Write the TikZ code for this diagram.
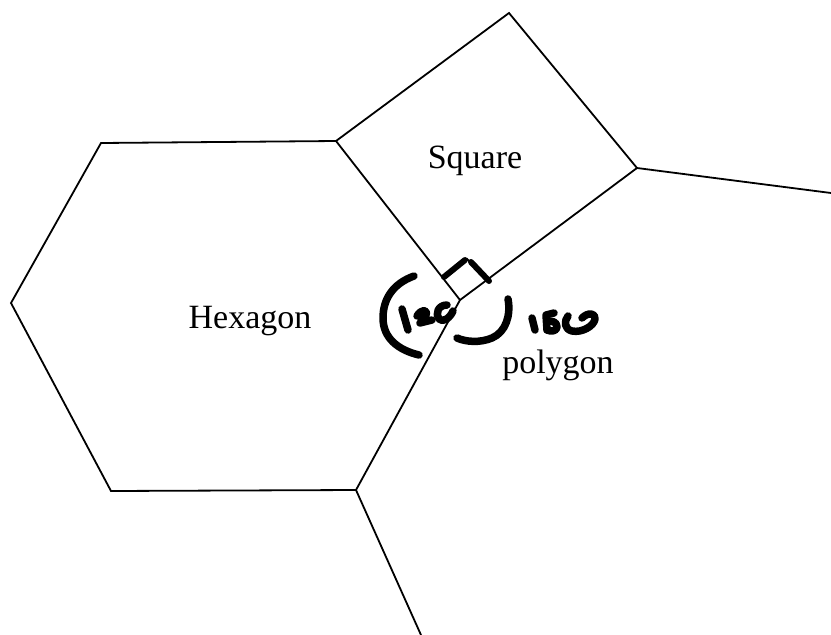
\documentclass[tikz,border=0pt]{standalone}
\usepackage{fontspec}
\setmainfont{Liberation Serif}
\begin{document}
\begin{tikzpicture}[x=1pt,y=-1pt,
  edge/.style={line width=1.8pt,line join=miter},
  ink/.style={line width=7.5pt,line cap=round,line join=round},
  lbl/.style={font=\fontsize{34}{40}\selectfont,anchor=base,inner sep=0pt}]
\useasboundingbox (0,0) rectangle (831,635);
% vertices
\coordinate (h1) at (101,143);
\coordinate (h2) at (336,141);
\coordinate (v)  at (460,300);
\coordinate (h4) at (356,490);
\coordinate (h5) at (111,491);
\coordinate (h6) at (11,303);
\coordinate (s2) at (509,13);
\coordinate (s3) at (637,168);
\coordinate (r)  at (831,193);
\coordinate (b)  at (421,635);
% right-angle marker corners
\coordinate (m1) at (443,278);
\coordinate (m2) at (467,259);
\coordinate (m3) at (490,282);
% edges
\draw[edge] (h1) -- (h2) -- (v) -- (h4) -- (h5) -- (h6) -- cycle;
\draw[edge] (h2) -- (s2) -- (s3) -- (v);
\draw[edge] (s3) -- (r);
\draw[edge] (h4) -- (b);
\draw[edge] (m1) -- (m2) -- (m3);
% labels
\node[lbl] (hex) at (250,328) {Hexagon};
\node[lbl] (sq) at (475,168) {Square};
\node[lbl] (poly) at (558,373) {polygon};
% handwritten marks
\draw[line width=6pt,line cap=round] (444,277) -- (465,260);
\draw[line width=6pt,line cap=round] (471,262) -- (489,281);
% "("
\draw[ink] (414,276) .. controls (392,284) and (383,300) .. (383,318) .. controls (383,338) and (398,350) .. (419,355);
% "1"
\draw[ink] (402,309) -- (408,330);
% "2"
\draw[ink] (417,316) .. controls (421,309) and (428,309) .. (426,315) .. controls (424,320) and (420,323) .. (420,323) -- (432,320);
% "c"
\draw[ink] (447,305) .. controls (438,305) and (435,314) .. (439,319) .. controls (443,323) and (450,318) .. (453,311);
% ")"
\draw[ink] (508,299) .. controls (511,315) and (506,332) .. (492,338) .. controls (480,343) and (466,342) .. (457,338);
% "1"
\draw[ink] (532,318) -- (535,330);
% "8"
\draw[ink] (554,313) -- (546,315) -- (547,330);
\draw[ink] (547,322) .. controls (552,320) and (557,322) .. (557,327) .. controls (557,331) and (551,332) .. (547,330);
% "0"
\draw[ink] (568,316) .. controls (564,321) and (564,329) .. (572,331) .. controls (582,333) and (594,326) .. (595,319) .. controls (596,313) and (588,312) .. (582,318);
\end{tikzpicture}
\end{document}
